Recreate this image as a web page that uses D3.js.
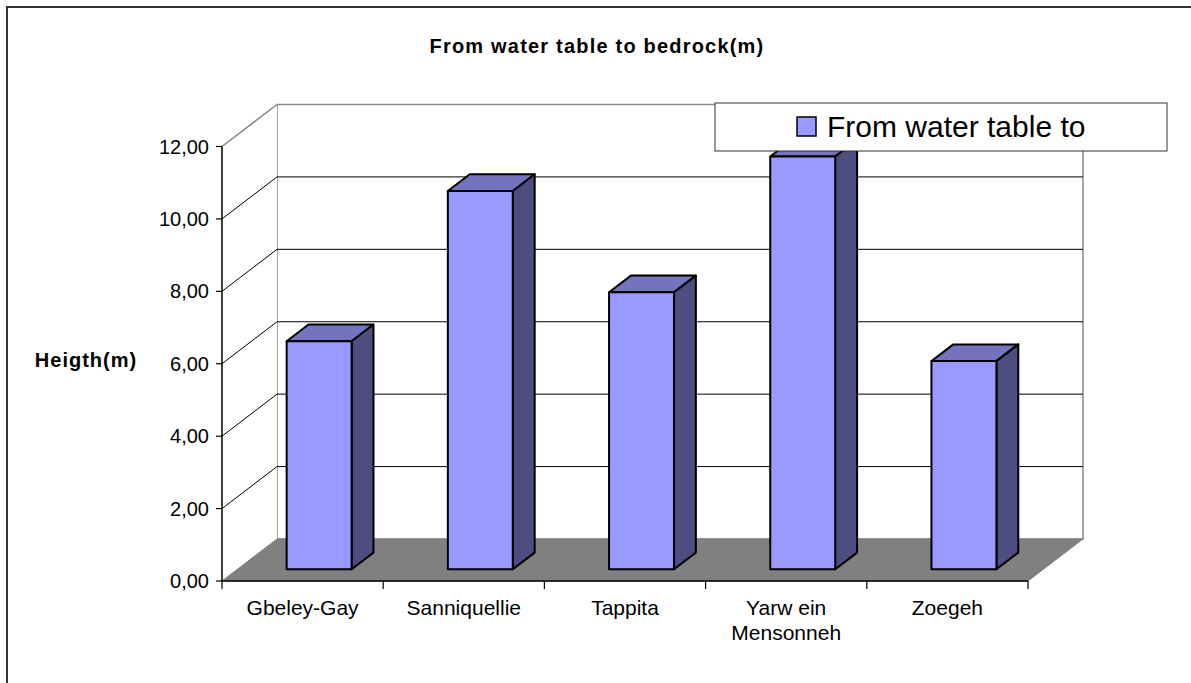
<!DOCTYPE html>
<html>
<head>
<meta charset="utf-8">
<script src="https://cdn.jsdelivr.net/npm/d3@7"></script>
<style>
  body { margin: 0; background: #fff; }
  text { font-family: "Liberation Sans", Arial, sans-serif; fill: #000; }
</style>
</head>
<body>
<div id="chart"></div>
<script>
// Chart data
const categories = ["Gbeley-Gay", "Sanniquellie", "Tappita", "Yarwein Mensonneh", "Zoegeh"];
const categoryLines = [["Gbeley-Gay"], ["Sanniquellie"], ["Tappita"], ["Yarw ein", "Mensonneh"], ["Zoegeh"]];
const values = [6.3, 10.45, 7.65, 11.4, 5.75];
const yTicks = [0, 2, 4, 6, 8, 10, 12];
const seriesName = "From water table to";
const chartTitle = "From water table to bedrock(m)";
const yTitle = "Heigth(m)";

const width = 1191, height = 683;

const svg = d3.select("#chart").append("svg")
    .attr("width", width)
    .attr("height", height);

// outer frame
svg.append("rect")
    .attr("x", 7).attr("y", 7)
    .attr("width", width + 10).attr("height", height + 10)
    .attr("fill", "none").attr("stroke", "#333").attr("stroke-width", 2);

// scales (front plane)
const x = d3.scaleBand().domain(categories).range([222, 1028]).padding(0);
const y = d3.scaleLinear().domain([0, 12]).range([581, 146.5]);

// depth: how far back (in px upward), ratio gives x shift
const depthMax = 42, ratio = 55 / 42;
const P = (px, v, d) => [px + d * ratio, y(v) - d];
const poly = pts => "M" + pts.map(p => p.join(",")).join("L") + "Z";

const x0 = x.range()[0], x1 = x.range()[1];

// back wall
svg.append("path")
    .attr("d", poly([P(x0, 0, depthMax), P(x0, 12, depthMax), P(x1, 12, depthMax), P(x1, 0, depthMax)]))
    .attr("fill", "#fff").attr("stroke", "#888").attr("stroke-width", 1.5);

// left wall
svg.append("path")
    .attr("d", poly([P(x0, 0, 0), P(x0, 12, 0), P(x0, 12, depthMax), P(x0, 0, depthMax)]))
    .attr("fill", "#fff").attr("stroke", "none");

// gridlines
yTicks.filter(t => t > 0 && t < 12).forEach(t => {
    svg.append("path")
        .attr("d", "M" + P(x0, t, 0) + "L" + P(x0, t, depthMax) + "L" + P(x1, t, depthMax))
        .attr("fill", "none").attr("stroke", "#000").attr("stroke-width", 1);
});
svg.append("path")
    .attr("d", "M" + P(x0, 12, 0) + "L" + P(x0, 12, depthMax))
    .attr("fill", "none").attr("stroke", "#888").attr("stroke-width", 1.5);

// floor
svg.append("path")
    .attr("d", poly([P(x0, 0, 0), P(x1, 0, 0), P(x1, 0, depthMax), P(x0, 0, depthMax)]))
    .attr("fill", "#808080").attr("stroke", "#808080").attr("stroke-width", 1);

// front axes
svg.append("line")
    .attr("x1", x0).attr("x2", x0).attr("y1", y(12)).attr("y2", y(0))
    .attr("stroke", "#000").attr("stroke-width", 1.5);
svg.append("line")
    .attr("x1", x0).attr("x2", x1).attr("y1", y(0)).attr("y2", y(0))
    .attr("stroke", "#000").attr("stroke-width", 1.5);

// y ticks + labels
const fmt = v => v.toFixed(2).replace(".", ",");
svg.selectAll(".ytick").data(yTicks).enter().append("line")
    .attr("x1", x0 - 6).attr("x2", x0).attr("y1", d => y(d)).attr("y2", d => y(d))
    .attr("stroke", "#000").attr("stroke-width", 1.2);
svg.selectAll(".ylab").data(yTicks).enter().append("text")
    .attr("x", x0 - 13).attr("y", d => y(d) + 7)
    .attr("text-anchor", "end")
    .style("font-size", "20px")
    .text(d => fmt(d));

// x ticks
const bounds = categories.map(c => x(c)).concat([x1]);
svg.selectAll(".xtick").data(bounds).enter().append("line")
    .attr("x1", d => d).attr("x2", d => d).attr("y1", y(0)).attr("y2", y(0) + 8)
    .attr("stroke", "#000").attr("stroke-width", 1.2);

// x labels
categoryLines.forEach((lines, i) => {
    const cx = x(categories[i]) + x.bandwidth() / 2;
    const t = svg.append("text")
        .attr("x", cx).attr("y", 615)
        .attr("text-anchor", "middle")
        .style("font-size", "21px");
    lines.forEach((ln, j) => {
        t.append("tspan").attr("x", cx).attr("dy", j === 0 ? 0 : 25).text(ln);
    });
});

// bars
const barOff = 0.306, barW = 0.403;
const dFront = 11.7, dBack = 28.4;
categories.forEach((c, i) => {
    const bx0 = x(c) + x.step() * barOff;
    const bx1 = bx0 + x.step() * barW;
    const v = values[i];
    const g = svg.append("g").attr("stroke", "#000").attr("stroke-width", 2).attr("stroke-linejoin", "round");
    // top
    g.append("path")
        .attr("d", poly([P(bx0, v, dFront), P(bx1, v, dFront), P(bx1, v, dBack), P(bx0, v, dBack)]))
        .attr("fill", "#7373BF");
    // side
    g.append("path")
        .attr("d", poly([P(bx1, 0, dFront), P(bx1, v, dFront), P(bx1, v, dBack), P(bx1, 0, dBack)]))
        .attr("fill", "#4D4D80");
    // front
    g.append("path")
        .attr("d", poly([P(bx0, 0, dFront), P(bx0, v, dFront), P(bx1, v, dFront), P(bx1, 0, dFront)]))
        .attr("fill", "#9999FF");
});

// title
svg.append("text")
    .attr("x", 597).attr("y", 53)
    .attr("text-anchor", "middle")
    .style("font-size", "20px").style("font-weight", "bold").style("letter-spacing", "1.2px")
    .text(chartTitle);

// y axis title
svg.append("text")
    .attr("x", 86).attr("y", 367)
    .attr("text-anchor", "middle")
    .style("font-size", "20px").style("font-weight", "bold").style("letter-spacing", "1px")
    .text(yTitle);

// legend
const lg = svg.append("g");
lg.append("rect")
    .attr("x", 715).attr("y", 103).attr("width", 452).attr("height", 48)
    .attr("fill", "#fff").attr("stroke", "#333").attr("stroke-width", 1);
lg.append("rect")
    .attr("x", 797).attr("y", 117).attr("width", 19).attr("height", 19)
    .attr("fill", "#9999FF").attr("stroke", "#000").attr("stroke-width", 1.5);
lg.append("text")
    .attr("x", 827).attr("y", 137)
    .style("font-size", "30px")
    .text(seriesName);
</script>
</body>
</html>
